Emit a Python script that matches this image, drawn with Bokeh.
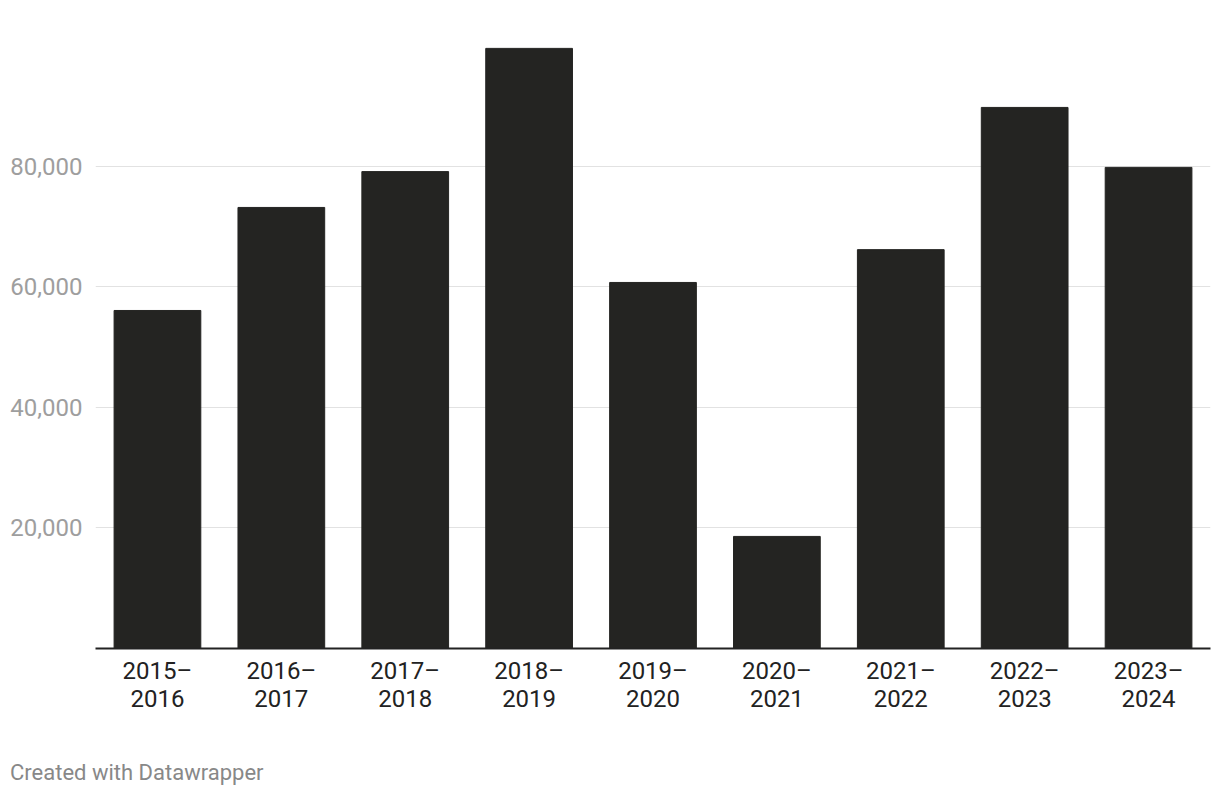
from bokeh.plotting import figure
from bokeh.models import Range1d, FixedTicker, NumeralTickFormatter, FactorRange, Div
from bokeh.layouts import column
from bokeh.embed import file_html
from bokeh.resources import INLINE

seasons = ["2015–2016", "2016–2017", "2017–2018", "2018–2019", "2019–2020",
           "2020–2021", "2021–2022", "2022–2023", "2023–2024"]
values = [56100, 73200, 79150, 99600, 60750, 18600, 66200, 89800, 79850]
y_ticks = [20000, 40000, 60000, 80000]
footer = "Created with Datawrapper"

# two-line labels: (second line, first line) so the first line sits next to the axis
factors = [(s.split("–")[1], s.split("–")[0] + "–") for s in seasons]

p = figure(x_range=FactorRange(*factors, group_padding=0, factor_padding=0, range_padding=0),
           y_range=Range1d(0, 104560), width=1212, height=756,
           output_backend="svg", toolbar_location=None,
           min_border_left=95, min_border_right=2, min_border_top=18, min_border_bottom=108)
p.outline_line_color = None
p.background_fill_color = "white"
p.border_fill_color = "white"

p.vbar(x=factors, top=values, width=0.7, color="#242422")

p.xgrid.grid_line_color = None
p.ygrid.grid_line_color = "#e2e2e2"
p.ygrid.grid_line_width = 1
p.ygrid.ticker = FixedTicker(ticks=y_ticks)

p.yaxis.ticker = FixedTicker(ticks=y_ticks)
p.yaxis.formatter = NumeralTickFormatter(format="0,0")
p.yaxis.axis_line_color = None
p.yaxis.major_tick_line_color = None
p.yaxis.minor_tick_line_color = None
p.yaxis.major_label_text_font = "Roboto"
p.yaxis.major_label_text_font_size = "24px"
p.yaxis.major_label_text_color = "#9e9e9e"
p.yaxis.major_label_standoff = 7

xa = p.xaxis[0]
xa.axis_line_color = "#222222"
xa.axis_line_width = 2
xa.major_tick_line_color = None
xa.minor_tick_line_color = None
xa.separator_line_color = None
xa.major_label_text_font = "Roboto"
xa.major_label_text_font_size = "24px"
xa.major_label_text_color = "#222222"
xa.major_label_text_line_height = 0.7
xa.major_label_standoff = 2
xa.group_text_font = "Roboto"
xa.group_text_font_size = "24px"
xa.group_text_font_style = "normal"
xa.group_text_color = "#222222"
xa.group_text_line_height = 0.7
xa.group_label_orientation = "horizontal"

note = Div(text=footer, width=400, height=30, margin=(4, 0, 0, 10),
           styles={"font-family": "Roboto", "font-size": "22px", "color": "#888888",
                   "line-height": "26px"})

layout = column(p, note, spacing=0)

open("out.html", "w").write(file_html(layout, INLINE))
